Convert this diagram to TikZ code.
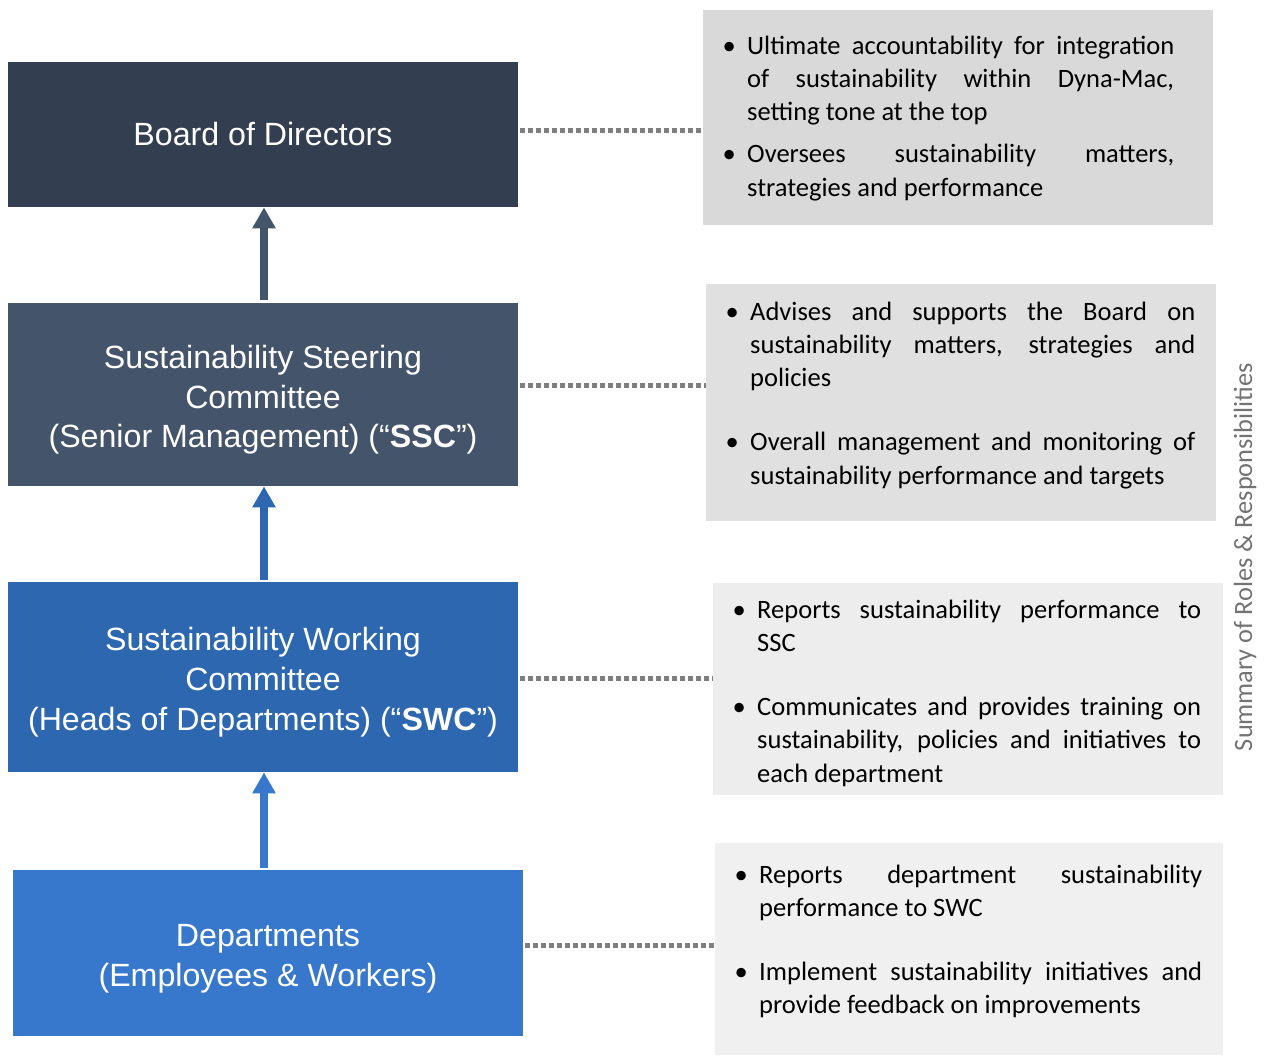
\documentclass[tikz,border=0pt]{standalone}
\usepackage{fontspec}
\usepackage{enumitem}
\usetikzlibrary{arrows.meta}
\setmainfont{Carlito}
\newfontfamily\arialfont{Liberation Sans}

\definecolor{boardcol}{HTML}{333F50}
\definecolor{ssccol}{HTML}{44546A}
\definecolor{swccol}{HTML}{2C67B0}
\definecolor{deptcol}{HTML}{3778CC}
\definecolor{dotcol}{HTML}{7F7F7F}

\tikzset{
  level/.style={minimum width=10.2cm, align=center, text=white, inner sep=0pt,
    font=\arialfont\fontsize{18.3}{22.7}\selectfont},
  rolebox/.style={minimum width=10.2cm, inner sep=0pt},
  roletext/.style={anchor=north west, inner sep=0pt, align=justify,
    font=\fontsize{15.1}{18.9}\selectfont},
  upline/.style={line width=0.15cm, -{Triangle[width=0.44cm,length=0.42cm]}},
  dotline/.style={dotcol, line width=0.1cm, dash pattern=on 0.1cm off 0.06cm}
}
\newcommand{\topstrut}{\rule{0pt}{1.05em}}
\newcommand{\rolelist}[2]{%
  \hyphenpenalty=10000 \exhyphenpenalty=10000 %
  \begin{itemize}[label=\textbullet, leftmargin=13pt, labelsep=6.5pt,
    topsep=0pt, partopsep=0pt, parsep=0pt, itemsep=#1]#2\end{itemize}}

\begin{document}
\begin{tikzpicture}[x=0.02cm, y=-0.02cm]
        \useasboundingbox (0,0) rectangle (1267,1055);
        % left column
        \node[level, fill=boardcol, minimum height=2.9cm] (board) at (263,134.5) {Board of Directors};
        \node[level, fill=ssccol, minimum height=3.66cm] (ssc) at (263,394.5) {\topstrut Sustainability Steering\\Committee\\(Senior Management) (“\textbf{SSC}”)};
        \node[level, fill=swccol, minimum height=3.8cm] (swc) at (263,677) {\topstrut Sustainability Working\\Committee\\(Heads of Departments) (“\textbf{SWC}”)};
        \node[level, fill=deptcol, minimum height=3.32cm] (dept) at (268,953) {\topstrut Departments\\(Employees \& Workers)};
        \draw[upline, ssccol] (ssc.north -| 264,0) ++(0,-3) coordinate (a1) -- (board.south -| a1);
        \draw[upline, swccol] (swc.north -| 264,0) ++(0,-2) coordinate (a2) -- (ssc.south -| a2);
        \draw[upline, deptcol] (dept.north -| 264,0) ++(0,-2) coordinate (a3) -- (swc.south -| a3);
        % right column
        \node[rolebox, fill=black!15, minimum height=4.3cm] (rboard) at (958,117.5) {};
        \node[rolebox, fill=black!12, minimum height=4.74cm] (rssc) at (961,402.5) {};
        \node[rolebox, fill=black!7, minimum height=4.24cm] (rswc) at (968,689) {};
        \node[rolebox, fill=black!6, minimum width=10.16cm, minimum height=4.24cm] (rdept) at (969,949) {};
        \node[roletext, text width=9.0cm] (tboard) at (724,21) {\rolelist{5pt}{%
          \item Ultimate accountability for integration of sustainability within Dyna-Mac, setting tone at the top
          \item Oversees sustainability matters, strategies and performance}};
        \node[roletext, text width=9.36cm] (tssc) at (727,287) {\rolelist{17.5pt}{%
          \item Advises and supports the Board on sustainability matters, strategies and policies
          \item Overall management and monitoring of sustainability performance and targets}};
        \node[roletext, text width=9.34cm] (tswc) at (734,585) {\rolelist{17.5pt}{%
          \item Reports sustainability performance to\linebreak SSC
          \item Communicates and provides training on sustainability, policies and initiatives to each department}};
        \node[roletext, text width=9.32cm] (tdept) at (736,850) {\rolelist{17.5pt}{%
          \item Reports department sustainability performance to SWC
          \item Implement sustainability initiatives and provide feedback on improvements}};
        % dotted links
        \draw[dotline] (board.east |- 0,130) ++(2,0) -- (rboard.west |- 0,130);
        \draw[dotline] (ssc.east |- 0,385) ++(2,0) -- (rssc.west |- 0,385);
        \draw[dotline] (swc.east |- 0,678) ++(2,0) -- (rswc.west |- 0,678);
        \draw[dotline] (dept.east |- 0,945) ++(2,0) -- (rdept.west |- 0,945);
        \node[rotate=90, text=black!55, inner sep=0pt, font=\fontsize{15}{18}\selectfont] (summary) at (1245,557) {Summary of Roles \& Responsibilities};
    \end{tikzpicture}
\end{document}
